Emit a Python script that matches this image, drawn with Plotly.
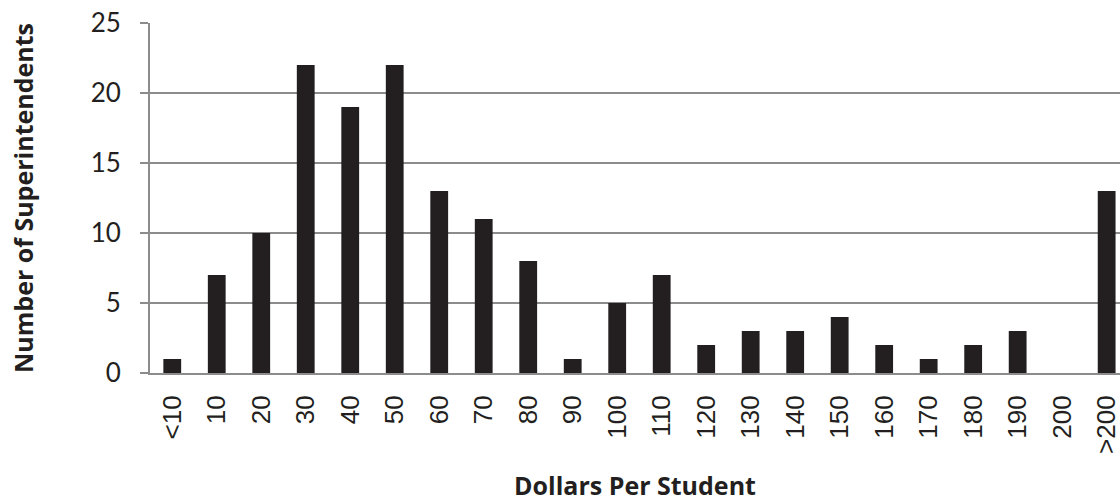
import plotly.graph_objects as go

categories = ["<10", "10", "20", "30", "40", "50", "60", "70", "80", "90", "100",
              "110", "120", "130", "140", "150", "160", "170", "180", "190", "200", ">200"]
counts = [1, 7, 10, 22, 19, 22, 13, 11, 8, 1, 5, 7, 2, 3, 3, 4, 2, 1, 2, 3, 0, 13]

GRID = "#8c8c8c"
INK = "#231f20"

fig = go.Figure(go.Bar(
    x=categories, y=counts,
    marker=dict(color=INK, line=dict(width=0)),
))

fig.update_layout(
    width=1120, height=502,
    margin=dict(l=150, r=0, t=23, b=129),
    plot_bgcolor="white", paper_bgcolor="white",
    bargap=0.6,
    showlegend=False,
)

fig.update_xaxes(
    type="category",
    range=[-0.5, 21.3],
    tickangle=-90,
    tickfont=dict(family="Liberation Sans, Arial", size=26, color=INK),
    ticklabelstandoff=10,
    showline=True, linecolor=GRID, linewidth=2,
    ticks="", showgrid=False,
    title=dict(text="<b>Dollars Per Student</b>",
               font=dict(family="Open Sans", size=25, color=INK), standoff=27),
)

fig.update_yaxes(
    range=[0, 25], dtick=5,
    tickfont=dict(family="Lato", size=26, color=INK),
    ticklabelstandoff=14,
    showline=True, linecolor=GRID, linewidth=2,
    ticks="outside", ticklen=8, tickcolor=GRID, tickwidth=2,
    showgrid=True, gridcolor=GRID, gridwidth=1.5,
    zeroline=False,
    title=dict(text="<b>Number of Superintendents</b>",
               font=dict(family="Open Sans", size=25, color=INK), standoff=50),
)

fig.write_html("out.html")
